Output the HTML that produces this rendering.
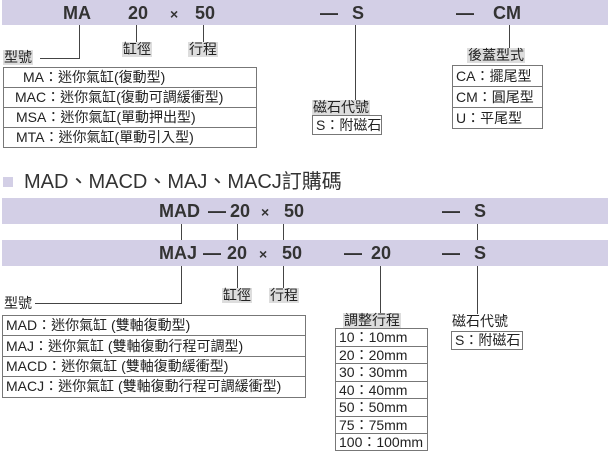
<!DOCTYPE html>
<html><head><meta charset="utf-8"><style>
body{margin:0;width:608px;height:454px;background:#fff;position:relative;overflow:hidden;font-family:"Liberation Sans","Noto Sans CJK TC",sans-serif;color:#222}
div{position:absolute;box-sizing:border-box}
.bar{background:#d3cfe6;left:2px;width:606px}
.bt{font-weight:bold;font-size:18px;color:#333;top:3px;white-space:nowrap}
.v{background:#444;width:1px}
.h{background:#444;height:1px}
.lab{background:#ddd;font-size:14px;line-height:15px;padding:0 1px;white-space:nowrap}
.tb{border:1px solid #777;background:#fff}
.r{position:relative;border-bottom:1px solid #777;font-size:14px;white-space:nowrap;padding-left:3px}
.r:last-child{border-bottom:none}
</style></head><body>
<div class="bar" style="top:0;height:25px">
 <div class="bt" style="left:61px">MA</div>
 <div class="bt" style="left:126px">20</div>
 <div class="bt" style="left:168px;font-size:14px;top:6px">×</div>
 <div class="bt" style="left:193px">50</div>
 <div class="bt" style="left:318px">—</div>
 <div class="bt" style="left:350px">S</div>
 <div class="bt" style="left:454px">—</div>
 <div class="bt" style="left:491px">CM</div>
</div>
<div class="v" style="left:79px;top:25px;height:34px"></div>
<div class="h" style="left:40px;top:58px;width:40px"></div>
<div class="lab" style="left:3px;top:50px">型號</div>
<div class="v" style="left:136px;top:25px;height:17px"></div>
<div class="lab" style="left:122px;top:42px">缸徑</div>
<div class="v" style="left:203px;top:25px;height:17px"></div>
<div class="lab" style="left:188px;top:42px">行程</div>
<div class="tb" style="left:3px;top:67px;width:254px;height:81px">
 <div class="r" style="height:20px;line-height:19px;padding-left:19px">MA：迷你氣缸(復動型)</div>
 <div class="r" style="height:20px;line-height:19px;padding-left:11px">MAC：迷你氣缸(復動可調緩衝型)</div>
 <div class="r" style="height:20px;line-height:19px;padding-left:12px">MSA：迷你氣缸(單動押出型)</div>
 <div class="r" style="height:19px;line-height:19px;padding-left:12px">MTA：迷你氣缸(單動引入型)</div>
</div>
<div class="v" style="left:355px;top:25px;height:75px"></div>
<div class="lab" style="left:312px;top:100px">磁石代號</div>
<div class="tb" style="left:312px;top:115px;width:70px;height:20px"><div class="r" style="line-height:18px">S：附磁石</div></div>
<div class="v" style="left:509px;top:25px;height:23px"></div>
<div class="lab" style="left:467px;top:48px">後蓋型式</div>
<div class="tb" style="left:452px;top:65px;width:91px;height:64px">
 <div class="r" style="height:21px;line-height:20px">CA：擺尾型</div>
 <div class="r" style="height:21px;line-height:20px">CM：圓尾型</div>
 <div class="r" style="height:20px;line-height:20px">U：平尾型</div>
</div>
<div style="left:3px;top:177px;width:10px;height:10px;background:#d3cfe6"></div>
<div style="left:24px;top:170px;font-size:20px;line-height:24px;white-space:nowrap;color:#333">MAD、MACD、MAJ、MACJ訂購碼</div>
<div class="bar" style="top:198px;height:26px">
 <div class="bt" style="left:157px">MAD</div>
 <div class="bt" style="left:206px">—</div>
 <div class="bt" style="left:228px">20</div>
 <div class="bt" style="left:259px;font-size:14px;top:6px">×</div>
 <div class="bt" style="left:282px">50</div>
 <div class="bt" style="left:440px">—</div>
 <div class="bt" style="left:472px">S</div>
</div>
<div class="v" style="left:181px;top:224px;height:16px"></div>
<div class="v" style="left:237px;top:224px;height:16px"></div>
<div class="v" style="left:283px;top:224px;height:16px"></div>
<div class="v" style="left:477px;top:224px;height:16px"></div>
<div class="bar" style="top:240px;height:26px">
 <div class="bt" style="left:157px">MAJ</div>
 <div class="bt" style="left:201px">—</div>
 <div class="bt" style="left:225px">20</div>
 <div class="bt" style="left:257px;font-size:14px;top:6px">×</div>
 <div class="bt" style="left:280px">50</div>
 <div class="bt" style="left:342px">—</div>
 <div class="bt" style="left:369px">20</div>
 <div class="bt" style="left:440px">—</div>
 <div class="bt" style="left:472px">S</div>
</div>
<div class="v" style="left:181px;top:266px;height:38px"></div>
<div class="h" style="left:35px;top:303px;width:147px"></div>
<div class="lab" style="left:3px;top:296px;background:#fff">型號</div>
<div class="v" style="left:237px;top:266px;height:22px"></div>
<div class="lab" style="left:222px;top:288px">缸徑</div>
<div class="v" style="left:283px;top:266px;height:22px"></div>
<div class="lab" style="left:269px;top:288px">行程</div>
<div class="tb" style="left:2px;top:315px;width:304px;height:83px">
 <div class="r" style="height:20px;line-height:19px">MAD：迷你氣缸 (雙軸復動型)</div>
 <div class="r" style="height:21px;line-height:20px">MAJ：迷你氣缸 (雙軸復動行程可調型)</div>
 <div class="r" style="height:20px;line-height:19px">MACD：迷你氣缸 (雙軸復動緩衝型)</div>
 <div class="r" style="height:20px;line-height:19px">MACJ：迷你氣缸 (雙軸復動行程可調緩衝型)</div>
</div>
<div class="v" style="left:380px;top:266px;height:47px"></div>
<div class="lab" style="left:343px;top:313px">調整行程</div>
<div class="tb" style="left:335px;top:328px;width:93px;height:123px">
 <div class="r" style="height:17.5px;line-height:16px">10：10mm</div>
 <div class="r" style="height:17.5px;line-height:16px">20：20mm</div>
 <div class="r" style="height:17.5px;line-height:16px">30：30mm</div>
 <div class="r" style="height:17.5px;line-height:16px">40：40mm</div>
 <div class="r" style="height:17.5px;line-height:16px">50：50mm</div>
 <div class="r" style="height:17.5px;line-height:16px">75：75mm</div>
 <div class="r" style="height:16px;line-height:16px">100：100mm</div>
</div>
<div class="v" style="left:477px;top:266px;height:48px"></div>
<div class="lab" style="left:451px;top:314px;background:#fff">磁石代號</div>
<div class="tb" style="left:451px;top:331px;width:72px;height:19px"><div class="r" style="line-height:17px">S：附磁石</div></div>
</body></html>
